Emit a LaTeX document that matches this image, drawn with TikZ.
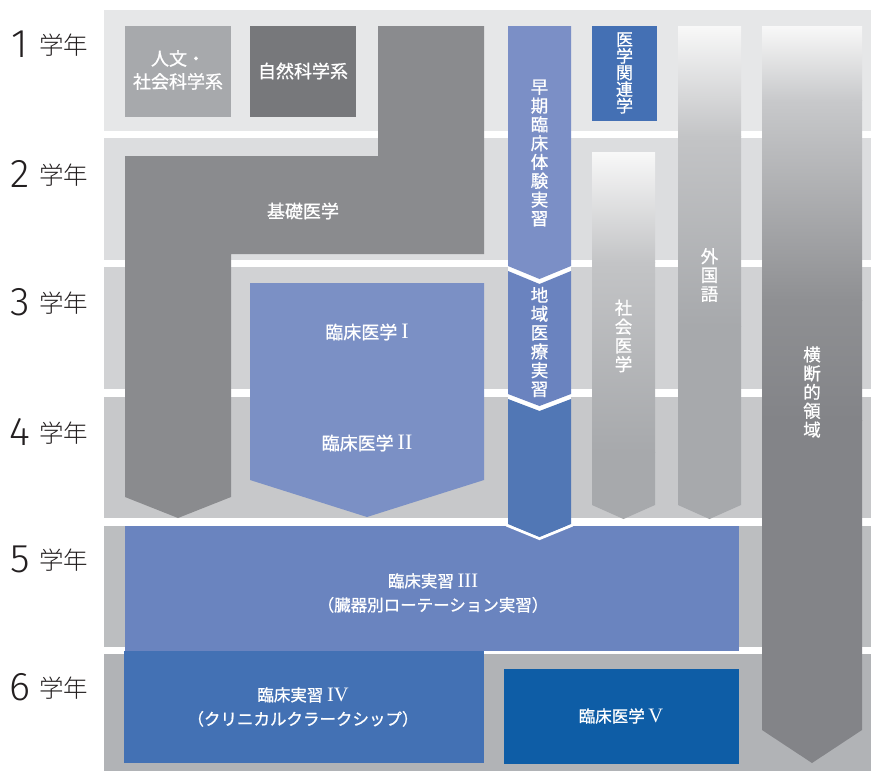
\documentclass[tikz,border=0pt]{standalone}
\usepackage{fontspec}
\newfontfamily\jp{Noto Sans CJK JP}
\newfontfamily\jpb[FakeBold=0.9]{Noto Sans CJK JP}
\IfFontExistsTF{Noto Sans CJK JP Light}{\newfontfamily\jpl{Noto Sans CJK JP Light}}{\newfontfamily\jpl{Noto Sans CJK JP}}
\newfontfamily\rmn{Liberation Serif}
\IfFontExistsTF{Fira Sans Light}{\newfontfamily\numfont{Fira Sans Light}}{%
  \IfFontExistsTF{Lato Light}{\newfontfamily\numfont{Lato Light}}{\newfontfamily\numfont{Noto Sans CJK JP}}}
\newcommand\rnum[1]{{\rmn\fontsize{20.5}{20}\selectfont #1}}
\newcommand\rnumb[1]{{\rmn\fontsize{22}{22}\selectfont #1}}
\definecolor{band1}{HTML}{E6E7E8}
\definecolor{band2}{HTML}{DCDDDF}
\definecolor{band3}{HTML}{D1D2D4}
\definecolor{band4}{HTML}{C7C8CA}
\definecolor{band5}{HTML}{BCBEC0}
\definecolor{band6}{HTML}{B1B3B6}
\definecolor{jinbun}{HTML}{A7A9AC}
\definecolor{shizen}{HTML}{77787B}
\definecolor{kiso}{HTML}{8A8B8E}
\definecolor{rinsho}{HTML}{7B90C5}
\definecolor{sokiA}{HTML}{7B8FC6}
\definecolor{sokiB}{HTML}{6A83BF}
\definecolor{sokiC}{HTML}{5177B5}
\definecolor{igaku}{HTML}{4470B4}
\definecolor{jisshuA}{HTML}{6A84BF}
\definecolor{jisshuB}{HTML}{4371B4}
\definecolor{rinshoV}{HTML}{0E5DA6}
\definecolor{gtop}{HTML}{F8F8F8}
\definecolor{lgA}{HTML}{C3C4C6}
\definecolor{lgB}{HTML}{A7A9AC}
\definecolor{dgA}{HTML}{C8C9CB}
\definecolor{dgB}{HTML}{8F9093}
\definecolor{dgC}{HTML}{838488}
\definecolor{yeartxt}{HTML}{231F20}
\begin{document}
\begin{tikzpicture}[x=1pt,y=-1pt,
  lbl/.style={text=white, font=\jpb\fontsize{16.5}{24}\selectfont, align=center, inner sep=0pt},
  biglbl/.style={lbl, font=\jpb\fontsize{18}{23}\selectfont},
  vlbl/.style={text=white, font=\jpb\fontsize{17.5}{18.8}\selectfont, align=center, inner sep=0pt},
  yr/.style={text=yeartxt, font=\jpl\fontsize{24.5}{24}\selectfont, anchor=base west, inner sep=0pt},
  num/.style={text=yeartxt, font=\numfont\fontsize{40}{40}\selectfont, anchor=base, inner sep=0pt}]
\useasboundingbox (0,0) rectangle (871,771);
\fill[white] (0,0) rectangle (871,771);
% year bands
\fill[band1] (104,10) rectangle (871,131);
\fill[band2] (104,138) rectangle (871,260);
\fill[band3] (104,267) rectangle (871,389);
\fill[band4] (104,397) rectangle (871,518);
\fill[band5] (104,526) rectangle (871,647);
\fill[band6] (104,654) rectangle (871,771);
% year labels
\foreach \n/\b in {1/57,2/187,3/315,4/445,5/572,6/700}{
  \node[num] (num\n) at (20,\b) {\n};
  \node[yr] (yr\n) at (39,\b-2.5) {学年};
}
% first-year boxes
\fill[jinbun] (125,26) rectangle (231,117);
\fill[shizen] (250,26) rectangle (356,117);
% basic medicine
\fill[kiso] (378,26) -- (484,26) -- (484,254) -- (231,254) -- (231,497) -- (178,518)
  -- (125,497) -- (125,156) -- (378,156) -- cycle;
% clinical medicine I/II
\fill[rinsho] (250,283) -- (484,283) -- (484,480) -- (367,517) -- (250,480) -- cycle;
% early exposure column (white gaps behind the chevrons)
\fill[white] (508,262) rectangle (571,290);
\fill[white] (508,390) rectangle (571,415);
\fill[sokiA] (508,26) -- (571,26) -- (571,266) -- (539.5,279) -- (508,266) -- cycle;
\fill[sokiB] (508,271) -- (539.5,284) -- (571,271) -- (571,394) -- (539.5,406) -- (508,394) -- cycle;
% medical related
\fill[igaku] (592,26) rectangle (657,121);
% social medicine gradient column
\begin{scope}
  \clip (592,152) -- (655,152) -- (655,505) -- (623.5,519) -- (592,505) -- cycle;
  \shade[top color=gtop, bottom color=lgA] (590,152) rectangle (660,262.5);
  \shade[top color=lgA, bottom color=lgB] (590,262) rectangle (660,452.5);
  \fill[lgB] (590,452) rectangle (660,520);
\end{scope}
% foreign language gradient column
\begin{scope}
  \clip (678,26) -- (741,26) -- (741,505) -- (709.5,519) -- (678,505) -- cycle;
  \shade[top color=gtop, bottom color=lgA] (676,26) rectangle (745,136.5);
  \shade[top color=lgA, bottom color=lgB] (676,136) rectangle (745,326.5);
  \fill[lgB] (676,326) rectangle (745,520);
\end{scope}
% cross-disciplinary gradient column
\begin{scope}
  \clip (762,26) -- (862,26) -- (862,730) -- (812,763) -- (762,730) -- cycle;
  \shade[top color=gtop, bottom color=dgA] (760,26) rectangle (865,100.5);
  \shade[top color=dgA, bottom color=dgB] (760,100) rectangle (865,300.5);
  \shade[top color=dgB, bottom color=dgC] (760,300) rectangle (865,420.5);
  \fill[dgC] (760,420) rectangle (865,765);
\end{scope}
% clinical practice boxes
\fill[jisshuA] (125,526) rectangle (739,651);
\fill[jisshuB] (124,651) rectangle (484,763);
\fill[rinshoV] (504,669) rectangle (739,764);
% community practice bottom segment with white rim
\draw[white, line width=3] (506.5,525) -- (539.5,538.5) -- (572.5,525);
\fill[sokiC] (508,399) -- (539.5,411) -- (571,399) -- (571,524) -- (539.5,537) -- (508,524) -- cycle;
% labels
\node[biglbl] (jinbunT) at (178,70) {人文・\\社会科学系};
\node[biglbl] (shizenT) at (303,71) {自然科学系};
\node[biglbl] (kisoT) at (303,211) {基礎医学};
\node[biglbl] (r1T) at (367,332) {臨床医学 \rnumb{I}};
\node[biglbl] (r2T) at (367,443) {臨床医学 \rnumb{II}};
\node[lbl] (j3T) at (433,593) {臨床実習 \rnum{III}\\（臓器別ローテーション実習）};
\node[lbl] (j4T) at (303,707) {臨床実習 \rnum{IV}\\（クリニカルクラークシップ）};
\node[lbl] (r5T) at (621,716) {臨床医学 \rnum{V}};
\node[vlbl] (sokiT) at (539.5,153) {早\\期\\臨\\床\\体\\験\\実\\習};
\node[vlbl] (chiikiT) at (539.5,342) {地\\域\\医\\療\\実\\習};
\node[vlbl, font=\jpb\fontsize{17}{16.6}\selectfont] (igakuT) at (624.5,73) {医\\学\\関\\連\\学};
\node[vlbl] (shakaiT) at (623.5,336) {社\\会\\医\\学};
\node[vlbl] (gaikokuT) at (709.5,275) {外\\国\\語};
\node[vlbl] (oudanT) at (812,392) {横\\断\\的\\領\\域};
\end{tikzpicture}
\end{document}
